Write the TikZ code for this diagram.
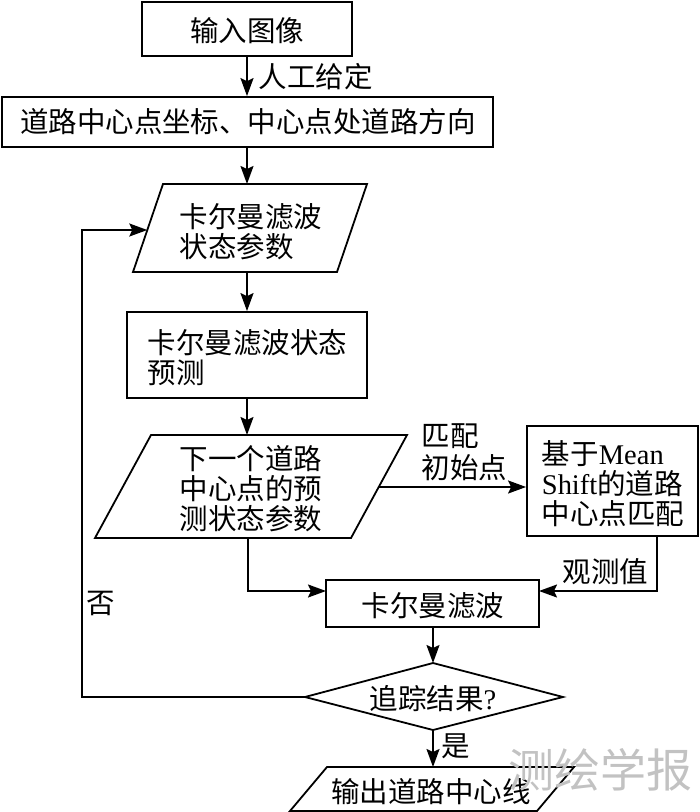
\documentclass[tikz,border=0pt]{standalone}
\usepackage{fontspec}
\setmainfont{Noto Sans CJK SC}
\newfontfamily\lat{Liberation Serif}
\usetikzlibrary{arrows.meta}
\begin{document}
\begin{tikzpicture}[x=1pt,y=-1pt,line width=1.8pt,
  box/.style={draw,rectangle,inner sep=0pt},
  txt/.style={font=\fontsize{28.5}{30}\selectfont,align=left,inner sep=0pt},
  arr/.style={-{Stealth[length=18pt,width=13pt,inset=3pt]}},
  wm/.style={font=\fontsize{46}{50}\selectfont,text=black!24,inner sep=0pt}]
\useasboundingbox (0,0) rectangle (700,812);
% boxes
\node[box,minimum width=210,minimum height=54] (b1) at (247,29) {};
\node[txt] (t0) at (247,31) {输入图像};
\node[box,minimum width=491,minimum height=50] (b2) at (247.5,122) {};
\node[txt] (t0b) at (248,122) {道路中心点坐标、中心点处道路方向};
% parallelogram 1
\draw (163,184) -- (367,184) -- (337,272) -- (133,272) -- cycle;
\coordinate (p1t) at (247,184);
\coordinate (p1b) at (247,272);
\coordinate (p1l) at (147.3,230);
\node[txt,anchor=west] (t1) at (179,232) {卡尔曼滤波\\状态参数};
% box 3
\node[box,minimum width=240,minimum height=86] (b3) at (247,355) {};
\node[txt,anchor=west] (t3) at (147,358) {卡尔曼滤波状态\\预测};
% parallelogram 2
\draw (151,435) -- (407,435) -- (351,538) -- (95,538) -- cycle;
\coordinate (p2t) at (247,435);
\coordinate (p2b) at (248,538);
\coordinate (p2r) at (379,487);
\node[txt,anchor=center] (t2) at (251,489) {下一个道路\\中心点的预\\测状态参数};
% right box
\node[box,minimum width=171,minimum height=110] (b5) at (612.5,481) {};
\node[txt,anchor=west] (t5) at (541,484) {基于{\lat Mean}\\{\lat Shift}的道路\\中心点匹配};
\node[txt,anchor=west,font=\fontsize{28.5}{32}\selectfont] (l1) at (421,452) {匹配\\初始点};
% box 4
\node[box,minimum width=213,minimum height=47] (b4) at (432.5,603.5) {};
\node[txt] (t4) at (433,606) {卡尔曼滤波};
\coordinate (b4w) at (326,591);
\coordinate (b4e) at (539,591);
% diamond
\draw (305,697) -- (433,663) -- (563,697) -- (433,730) -- cycle;
\coordinate (dt) at (433,663);
\coordinate (db) at (433,730);
\coordinate (dl) at (305,697);
\node[txt] (td) at (433,699) {追踪结果{\lat ?}};
% parallelogram 3
\draw (327,767) -- (574,767) -- (537,811) -- (290,811) -- cycle;
\coordinate (p3t) at (433,767);
\node[txt] (t6) at (431,792) {输出道路中心线};
% watermark
\node[wm] (w) at (600,770) {测绘学报};
% connectors
\draw[arr] (b1.south) -- (b2.north -| b1.south);
\node[txt,anchor=west] (l0) at (258,77) {人工给定};
\draw[arr] (b2.south -| p1t) -- (p1t);
\draw[arr] (p1b) -- (b3.north -| p1b);
\draw[arr] (b3.south) -- (p2t);
\draw[arr] (p2r) -- (b5.west |- p2r);
\coordinate (c1) at (657,536);
\draw[arr] (c1) |- (b4e);
\node[txt,anchor=east] (l2) at (649,572) {观测值};
\draw[arr] (p2b) |- (b4w);
\draw[arr] (b4.south -| dt) -- (dt);
\coordinate (c2) at (82,697);
\draw[arr] (dl) -- (c2) |- (p1l);
\node[txt] (l3) at (101,603) {否};
\draw[arr] (db) -- (p3t);
\node[txt,anchor=west] (l4) at (441,746) {是};
\end{tikzpicture}
\end{document}
